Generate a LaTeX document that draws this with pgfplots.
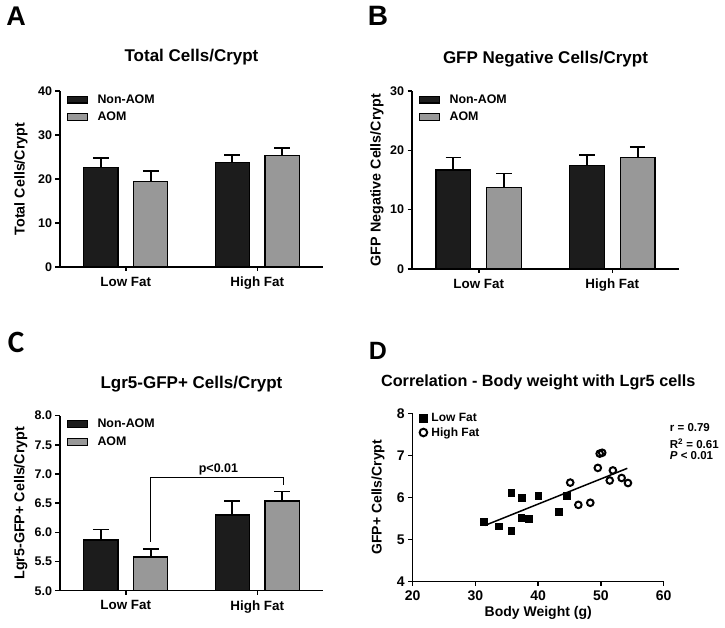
\documentclass[border=0pt]{standalone}
\usepackage{pgfplots}
\pgfplotsset{compat=1.18}
\usepackage{fontspec}
\setmainfont{Liberation Sans}
\newfontfamily\calib{Carlito}
\definecolor{darkbar}{RGB}{28,28,28}
\definecolor{graybar}{RGB}{152,152,152}

\pgfplotsset{
  base/.style={
    scale only axis,
    axis lines=left,
    axis line style={-, line width=1.5pt, black},
    tick style={line width=1.5pt, black},
    tick align=outside,
    major tick length=4.5pt,
    /pgf/number format/assume math mode=true,
    tick label style={font=\fontsize{12.5}{14}\selectfont\bfseries},
    label style={font=\fontsize{14.3}{16}\selectfont\bfseries},
    title style={font=\fontsize{17}{19}\selectfont\bfseries},
    clip mode=individual,
  },
  barax/.style={
    base,
    xmin=-0.5, xmax=1.5,
    xtick={0,1}, xticklabels={Low Fat, High Fat},
    x tick label style={font=\fontsize{13.4}{15}\selectfont\bfseries, yshift=-2pt},
    major x tick style={/pgfplots/major tick length=4pt},
    legend style={draw=none, fill=none, font=\fontsize{12.4}{14}\selectfont\bfseries,
      at={(axis description cs:0.025,0.99)}, anchor=north west, row sep=4.5pt, inner sep=0pt,
      nodes={inner sep=1.5pt}},
    legend cell align=left,
  },
  mybar/.style={ybar, bar width=0.26, bar shift=0, draw=black, line width=1.3pt,
    legend image code/.code={\draw[##1, line width=1.2pt] (0pt,-3.4pt) rectangle (20pt,3.4pt); \path (28pt,0pt);},
    error bars/y dir=plus, error bars/y explicit,
    error bars/error bar style={line width=1.8pt, black},
    error bars/error mark options={rotate=90, mark size=7.8pt, line width=1.8pt, black}},
  sqleg/.style={legend image code/.code={\draw[##1, mark size=4pt] plot coordinates {(0pt,0pt)}; \path (5.5pt,0pt);}},
  cileg/.style={legend image code/.code={\draw[##1, mark size=3.8pt] plot coordinates {(0pt,0pt)}; \path (5.5pt,0pt);}},
}

\begin{document}
\begin{tikzpicture}
\useasboundingbox (0pt,0pt) rectangle (725pt,628pt);

% ---------------- A ----------------
\begin{axis}[barax, at={(60pt,361pt)}, anchor=south west, width=263pt, height=176pt,
  ymin=0, ymax=40, ytick={0,10,20,30,40},
  title={Total Cells/Crypt}, title style={at={(0.5,1.159)}, anchor=center},
  ylabel={Total Cells/Crypt}, ylabel style={at={(axis description cs:-0.149,0.5)}, anchor=center}]
\addplot[fill=darkbar, mybar] coordinates {(-0.19,22.6) +- (0,2.1) (0.81,23.8) +- (0,1.7)};
\addplot[fill=graybar, mybar] coordinates {(0.19,19.4) +- (0,2.5) (1.19,25.3) +- (0,1.7)};
\legend{Non-AOM, AOM}
\end{axis}

% ---------------- B ----------------
\begin{axis}[barax, at={(412pt,359pt)}, anchor=south west, width=267pt, height=178pt,
  ymin=0, ymax=30, ytick={0,10,20,30},
  title={GFP Negative Cells/Crypt}, title style={at={(0.5,1.146)}, anchor=center},
  ylabel={GFP Negative Cells/Crypt}, ylabel style={at={(axis description cs:-0.131,0.5)}, anchor=center}]
\addplot[fill=darkbar, mybar] coordinates {(-0.19,16.7) +- (0,2.1) (0.81,17.4) +- (0,1.8)};
\addplot[fill=graybar, mybar] coordinates {(0.19,13.7) +- (0,2.4) (1.19,18.8) +- (0,1.7)};
\legend{Non-AOM, AOM}
\end{axis}

% ---------------- C ----------------
\begin{axis}[barax, at={(60pt,37.3pt)}, anchor=south west, width=263pt, height=175pt,
  ymin=5, ymax=8, ytick={5,5.5,...,8},
  yticklabel style={/pgf/number format/.cd, fixed, fixed zerofill, precision=1},
  title={Lgr5-GFP+ Cells/Crypt}, title style={at={(0.5,1.147)}, anchor=center},
  ylabel={Lgr5-GFP+ Cells/Crypt}, ylabel style={at={(axis description cs:-0.149,0.5)}, anchor=center}]
\addplot[fill=darkbar, mybar] coordinates {(-0.19,5.87) +- (0,0.18) (0.81,6.30) +- (0,0.24)};
\addplot[fill=graybar, mybar] coordinates {(0.19,5.58) +- (0,0.13) (1.19,6.54) +- (0,0.16)};
\legend{Non-AOM, AOM}
\draw[line width=1.4pt] (axis cs:0.19,5.84) -- (axis cs:0.19,6.94) -- (axis cs:1.2,6.94) -- (axis cs:1.2,6.81);
\node[font=\fontsize{12.5}{14}\selectfont\bfseries] at (axis cs:0.705,7.08) {p<0.01};
\end{axis}

% ---------------- D ----------------
\begin{axis}[base, at={(412.7pt,46.7pt)}, anchor=south west, width=251pt, height=168pt,
  xmin=20, xmax=60, ymin=4, ymax=8, xtick={20,30,40,50,60}, ytick={4,5,6,7,8},
  tick label style={font=\fontsize{14}{16}\selectfont\bfseries},
  x tick label style={yshift=-1.5pt},
  label style={font=\fontsize{14}{16}\selectfont\bfseries},
  title style={font=\fontsize{16.2}{18}\selectfont\bfseries},
  title={Correlation - Body weight with Lgr5 cells}, title style={at={(0.5,1.15)}, anchor=center},
  ylabel={GFP+ Cells/Crypt}, ylabel style={at={(axis description cs:-0.138,0.5)}, anchor=center},
  xlabel={Body Weight (g)}, xlabel style={at={(axis description cs:0.5,-0.19)}, anchor=center},
  legend style={draw=none, fill=none, font=\fontsize{12}{14}\selectfont\bfseries,
    at={(axis description cs:0.026,1.008)}, anchor=north west, row sep=1pt, inner sep=0pt,
    nodes={inner sep=1.5pt}},
  legend cell align=left]
\addplot[only marks, mark=square*, mark size=3.4pt, black, sqleg]
  coordinates {(31.3,5.41) (33.7,5.31) (35.7,6.11) (35.7,5.20) (37.4,5.99) (37.3,5.52)
               (38.5,5.49) (40.0,6.03) (43.3,5.65) (44.6,6.03)};
\addplot[only marks, mark=o, mark size=3.3pt, line width=2pt, black, cileg]
  coordinates {(45.1,6.35) (46.4,5.82) (48.3,5.87) (49.5,6.70) (49.8,7.04) (50.2,7.06)
               (51.9,6.64) (51.4,6.40) (53.3,6.46) (54.3,6.34)};
\addplot[no marks, line width=1.5pt, black, forget plot] coordinates {(31.5,5.33) (54.2,6.69)};
\legend{Low Fat, High Fat}
\node[anchor=west, inner sep=0pt, font=\fontsize{11.5}{13}\selectfont\bfseries] at (axis description cs:1.024,0.918) {r = 0.79};
\node[anchor=west, inner sep=0pt, font=\fontsize{11.5}{13}\selectfont\bfseries] at (axis description cs:1.024,0.820) {R\textsuperscript{2} = 0.61};
\node[anchor=west, inner sep=0pt, font=\fontsize{11.5}{13}\selectfont\bfseries] at (axis description cs:1.024,0.750) {\textit{P} < 0.01};
\end{axis}

% panel letters
\node[inner sep=0pt, font=\fontsize{27}{30}\selectfont\bfseries] at (16pt,611.5pt) {A};
\node[inner sep=0pt, font=\fontsize{28}{30}\selectfont\bfseries] at (378pt,612.5pt) {B};
\node[inner sep=0pt, font=\calib\fontsize{31}{33}\selectfont\bfseries] at (16pt,286pt) {C};
\node[inner sep=0pt, font=\fontsize{25}{28}\selectfont\bfseries] at (378pt,277.5pt) {D};
\end{tikzpicture}
\end{document}
